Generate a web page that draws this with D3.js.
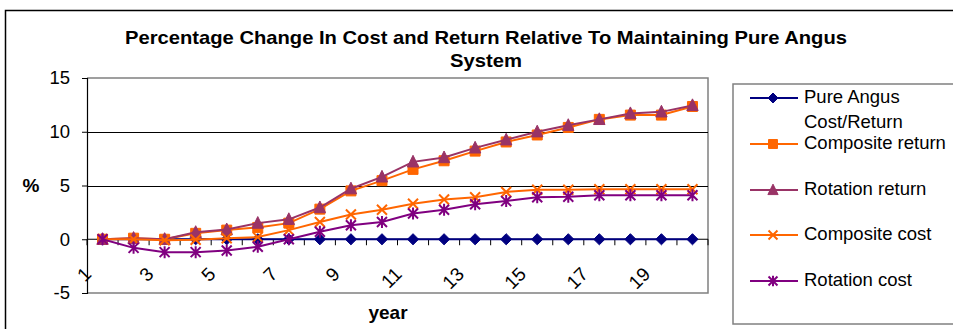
<!DOCTYPE html>
<html>
<head>
<meta charset="utf-8">
<script src="https://cdn.jsdelivr.net/npm/d3@7"></script>
<style>
  body { margin: 0; background: #fff; }
  text { font-family: "Liberation Sans", Arial, sans-serif; fill: #000; }
</style>
</head>
<body>
<script>
// Chart data
const years = [1, 2, 3, 4, 5, 6, 7, 8, 9, 10, 11, 12, 13, 14, 15, 16, 17, 18, 19, 20];
const yearLabels = [1, 3, 5, 7, 9, 11, 13, 15, 17, 19];
const yTicks = [-5, 0, 5, 10, 15];
const gridValues = [5, 10];

const pureAngus       = [0, 0, 0, 0, 0, 0, 0, 0, 0, 0, 0, 0, 0, 0, 0, 0, 0, 0, 0, 0];
const compositeReturn = [0, 0.1, 0, 0.55, 0.85, 1.1, 1.5, 2.8, 4.5, 5.45, 6.5, 7.3, 8.2, 9.05, 9.7, 10.4, 11.15, 11.55, 11.55, 12.35];
const rotationReturn  = [0, 0.1, 0, 0.65, 0.9, 1.5, 1.85, 2.95, 4.7, 5.8, 7.2, 7.6, 8.5, 9.25, 10.0, 10.6, 11.15, 11.7, 11.85, 12.45];
const compositeCost   = [0, 0, -0.1, -0.05, 0.1, 0.2, 0.85, 1.6, 2.3, 2.75, 3.3, 3.7, 3.9, 4.4, 4.6, 4.6, 4.65, 4.65, 4.65, 4.65];
const rotationCost    = [0, -0.8, -1.2, -1.2, -1.05, -0.7, 0, 0.7, 1.3, 1.6, 2.4, 2.75, 3.25, 3.55, 3.9, 3.95, 4.1, 4.1, 4.1, 4.1];

// Custom marker shapes (Excel style)
const diamond = { draw(c, s) { const r = Math.sqrt(s) / 1.5; c.moveTo(0, -r); c.lineTo(r, 0); c.lineTo(0, r); c.lineTo(-r, 0); c.closePath(); } };
const square = { draw(c, s) { const r = Math.sqrt(s) / 2; c.rect(-r, -r, 2 * r, 2 * r); } };
const triangle = { draw(c, s) { const r = Math.sqrt(s) / 2; c.moveTo(0, -r * 1.15); c.lineTo(r, r * 0.9); c.lineTo(-r, r * 0.9); c.closePath(); } };
const cross = { draw(c, s) { const r = Math.sqrt(s) / 2; c.moveTo(-r, -r); c.lineTo(r, r); c.moveTo(-r, r); c.lineTo(r, -r); } };
const star = { draw(c, s) { const r = Math.sqrt(s) / 2; c.moveTo(-r, -r); c.lineTo(r, r); c.moveTo(-r, r); c.lineTo(r, -r); c.moveTo(0, -r * 1.2); c.lineTo(0, r * 1.2); } };

const series = [
    { name: ["Pure Angus", "Cost/Return"], values: pureAngus, colour: "#000080", shape: diamond, filled: true, size: 70, legendY: 98 },
    { name: ["Composite return"], values: compositeReturn, colour: "#FF6600", shape: square, filled: true, size: 100, legendY: 144 },
    { name: ["Rotation return"], values: rotationReturn, colour: "#993366", shape: triangle, filled: true, size: 130, legendY: 190 },
    { name: ["Composite cost"], values: compositeCost, colour: "#FF6600", shape: cross, filled: false, size: 100, legendY: 235 },
    { name: ["Rotation cost"], values: rotationCost, colour: "#800080", shape: star, filled: false, size: 100, legendY: 281 }
];

// SVG dimensions
const outerWidth = 953, outerHeight = 329;
const plot = { left: 87, right: 708, top: 78, bottom: 293 };

const svg = d3.select("body")
    .append("svg")
    .attr("width", outerWidth)
    .attr("height", outerHeight);

// Chart area border
svg.append("rect")
    .attr("x", 5.5).attr("y", 10.5)
    .attr("width", 1000).attr("height", 400)
    .attr("fill", "none")
    .attr("stroke", "#000")
    .attr("stroke-width", 1.5);

// Scales
const x = d3.scaleBand()
    .domain(years)
    .range([plot.left, plot.right]);
const y = d3.scaleLinear()
    .domain([-5, 15])
    .range([plot.bottom, plot.top]);
const cx = (d) => x(d) + x.bandwidth() / 2;

// Plot area border (grey)
svg.append("path")
    .attr("d", `M${plot.left},${plot.top}H${plot.right}V${plot.bottom}H${plot.left}`)
    .attr("fill", "none")
    .attr("stroke", "#808080")
    .attr("stroke-width", 1.5);

// Gridlines
svg.append("g")
    .selectAll("line")
    .data(gridValues)
    .enter()
    .append("line")
    .attr("x1", plot.left).attr("x2", plot.right)
    .attr("y1", (d) => Math.round(y(d)) + 0.5)
    .attr("y2", (d) => Math.round(y(d)) + 0.5)
    .attr("stroke", "#000")
    .attr("stroke-width", 1);

// Y axis
const yAxis = svg.append("g")
    .attr("transform", `translate(${plot.left}, 0)`)
    .call(d3.axisLeft(y).tickValues(yTicks).tickSize(5).tickPadding(12).tickFormat((d) => String(d)));
yAxis.select(".domain").attr("stroke", "#000").attr("stroke-width", 1.2);
yAxis.selectAll(".tick line").attr("stroke", "#000");
yAxis.selectAll(".tick text")
    .style("font-size", "18.5px")
    .style("font-family", "'Liberation Sans', Arial, sans-serif");

// X axis along zero line, ticks between categories
const y0 = y(0);
const xAxis = svg.append("g");
xAxis.append("line")
    .attr("x1", plot.left).attr("x2", plot.right)
    .attr("y1", y0).attr("y2", y0)
    .attr("stroke", "#000")
    .attr("stroke-width", 1.2);
xAxis.selectAll(".xtick")
    .data(years.concat(["end"]))
    .enter()
    .append("line")
    .attr("class", "xtick")
    .attr("x1", (d) => d === "end" ? plot.right : x(d))
    .attr("x2", (d) => d === "end" ? plot.right : x(d))
    .attr("y1", y0).attr("y2", y0 + 6)
    .attr("stroke", "#000");
xAxis.selectAll(".xlabel")
    .data(yearLabels)
    .enter()
    .append("text")
    .attr("class", "xlabel")
    .attr("text-anchor", "end")
    .attr("transform", (d) => `translate(${cx(d) - 10}, ${y0 + 36}) rotate(-45)`)
    .style("font-size", "19px")
    .text((d) => d);

// Series lines and markers
for (const s of series) {
    svg.append("path")
        .datum(s.values)
        .attr("fill", "none")
        .attr("stroke", s.colour)
        .attr("stroke-width", 2)
        .attr("d", d3.line()
            .x((d, i) => cx(years[i]))
            .y((d) => y(d)));

    const sym = d3.symbol().type(s.shape).size(s.size);
    svg.append("g")
        .selectAll("path")
        .data(s.values)
        .enter()
        .append("path")
        .attr("d", sym)
        .attr("transform", (d, i) => `translate(${cx(years[i])}, ${y(d)})`)
        .attr("fill", s.filled ? s.colour : "none")
        .attr("stroke", s.colour)
        .attr("stroke-width", s.filled ? 1 : 2);
}

// Title
const title = svg.append("text")
    .attr("text-anchor", "middle")
    .style("font-size", "19px")
    .style("font-weight", "bold");
title.append("tspan").attr("x", 486).attr("y", 44)
    .attr("textLength", 722)
    .attr("lengthAdjust", "spacingAndGlyphs")
    .text("Percentage Change In Cost and Return Relative To Maintaining Pure Angus");
title.append("tspan").attr("x", 486).attr("y", 67)
    .attr("textLength", 72)
    .attr("lengthAdjust", "spacingAndGlyphs")
    .text("System");

// Axis titles
svg.append("text")
    .attr("x", 31).attr("y", 192)
    .attr("text-anchor", "middle")
    .style("font-size", "19px")
    .style("font-weight", "bold")
    .text("%");
svg.append("text")
    .attr("x", 388).attr("y", 319)
    .attr("text-anchor", "middle")
    .style("font-size", "19px")
    .style("font-weight", "bold")
    .text("year");

// Legend box
svg.append("rect")
    .attr("x", 733).attr("y", 84)
    .attr("width", 300).attr("height", 240)
    .attr("fill", "none")
    .attr("stroke", "#808080")
    .attr("stroke-width", 1.5);

const legend = svg.append("g");
for (const s of series) {
    const g = legend.append("g").attr("transform", `translate(0, ${s.legendY})`);
    g.append("line")
        .attr("x1", 750).attr("x2", 798)
        .attr("stroke", s.colour)
        .attr("stroke-width", 2);
    g.append("path")
        .attr("d", d3.symbol().type(s.shape).size(s.size * 0.8))
        .attr("transform", "translate(773, 0)")
        .attr("fill", s.filled ? s.colour : "none")
        .attr("stroke", s.colour)
        .attr("stroke-width", s.filled ? 1 : 2);
    s.name.forEach((line, i) => {
        g.append("text")
            .attr("x", 804)
            .attr("y", i * 25 + 5)
            .style("font-size", "18.5px")
            .text(line);
    });
}
</script>
</body>
</html>
